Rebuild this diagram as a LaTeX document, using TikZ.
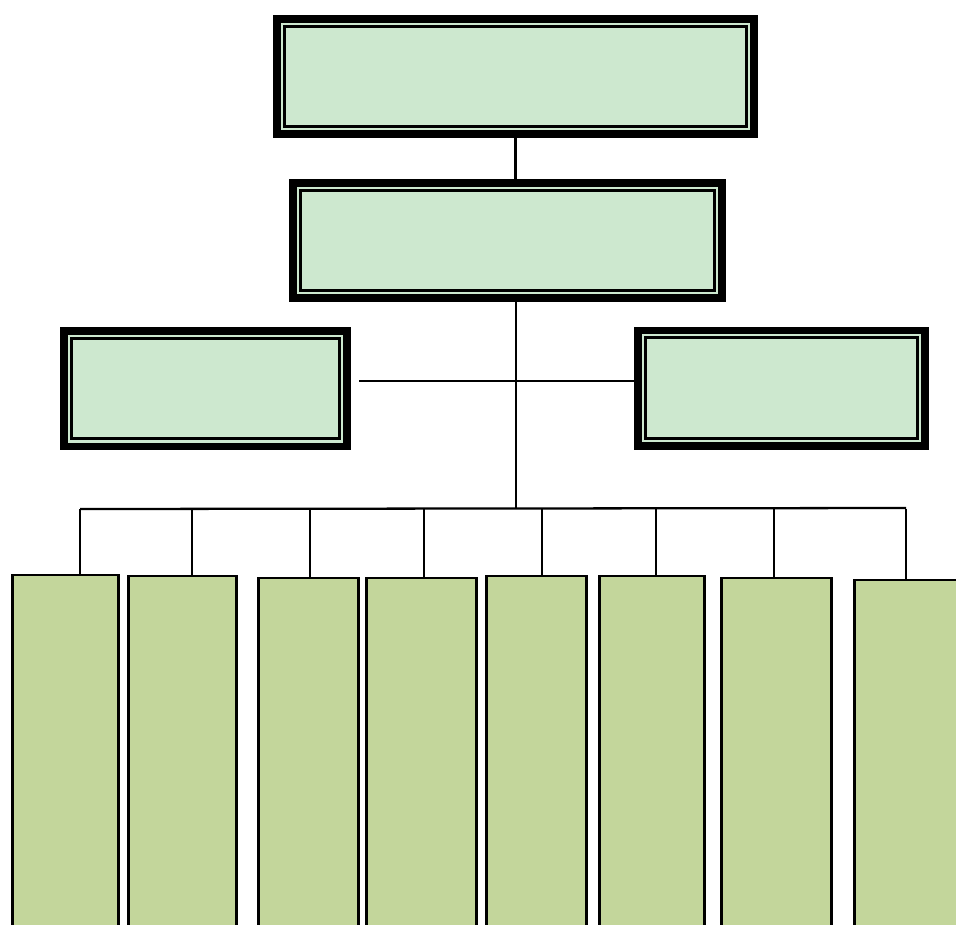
\documentclass[tikz,border=0pt]{standalone}
\usetikzlibrary{calc}
\definecolor{headgreen}{RGB}{205,232,207}
\definecolor{unitgreen}{RGB}{195,214,155}
\begin{document}
\begin{tikzpicture}[x=0.02cm,y=-0.02cm,
  headbox/.style={draw=black,line width=0.15cm,fill=headgreen,inner sep=0pt,outer sep=0pt,minimum height=2.31cm},
  unitbox/.style={draw=black,line width=1.3pt,fill=unitgreen,inner sep=0pt,outer sep=0pt,anchor=north west,minimum height=7.4cm},
  link/.style={line width=1.3pt}]
\useasboundingbox (0,0) rectangle (956,924);
\clip (0,0) rectangle (956,924);

% Head boxes
\node[headbox,minimum width=9.55cm] (top) at (515.5,76.5) {};
\node[headbox,minimum width=8.59cm] (mid) at (507.5,240.5) {};
\node[headbox,minimum width=5.67cm] (left) at (205.5,388.5) {};
\node[headbox,minimum width=5.75cm] (right) at (781.5,388) {};

% Inner frame lines
\foreach \n in {top,mid,left,right} {
    \draw[line width=1.6pt] ($(\n.north west)+(7.5,7.5)$) rectangle ($(\n.south east)+(-7.5,-7.5)$);
}

% Unit boxes
\node[unitbox,minimum width=2.12cm] (b1) at (12.5,575) {};
\node[unitbox,minimum width=2.16cm] (b2) at (128.5,576) {};
\node[unitbox,minimum width=2.0cm] (b3) at (258.5,578) {};
\node[unitbox,minimum width=2.2cm] (b4) at (366.5,578) {};
\node[unitbox,minimum width=2.0cm] (b5) at (486.5,576) {};
\node[unitbox,minimum width=2.1cm] (b6) at (599.5,576) {};
\node[unitbox,minimum width=2.2cm] (b7) at (721.5,578) {};
\node[unitbox,minimum width=2.24cm] (b8) at (854.5,580) {};

% Links between head boxes
\coordinate (hub) at (516,509);
\coordinate (cross) at (359,381);
\draw[link] (top.south) -- (top.south |- mid.north);
\draw[link] (hub |- mid.south) -- (hub);
\draw[link] (cross) -- (cross -| right.west);

% Bus to the unit boxes
\coordinate (busL) at (80,509);
\coordinate (busR) at (906,508);
\draw[link] (busL) -- (busR);
\foreach \x [count=\i] in {80,192,310,424,542,656,774,906} {
    \coordinate (d\i) at (\x,509);
    \draw[link] (d\i) -- (d\i |- b\i.north);
}
\end{tikzpicture}
\end{document}
